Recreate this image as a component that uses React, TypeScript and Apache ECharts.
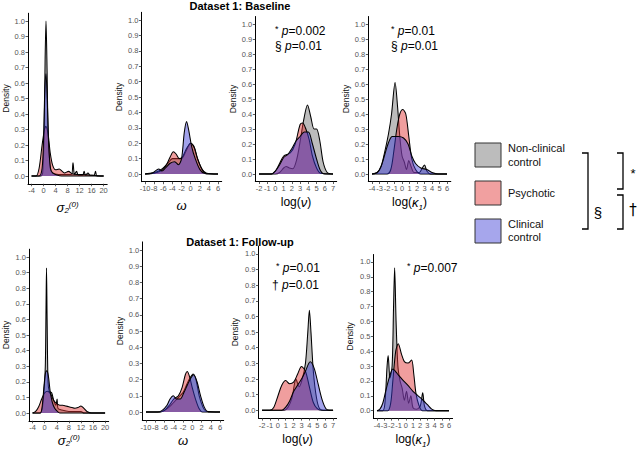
import { useEffect, useRef } from 'react';
import * as echarts from 'echarts';

// ---------- tick labels ----------
const sigmaTicks = [-4, 0, 4, 8, 12, 16, 20];
const omegaTicks = [-10, -8, -6, -4, -2, 0, 2, 4, 6];
const nuTicks = [-2, -1, 0, 1, 2, 3, 4, 5, 6, 7];
const kappaTicks = [-4, -3, -2, -1, 0, 1, 2, 3, 4, 5, 6];
const densityTicks = [0, 0.1, 0.2, 0.3, 0.4, 0.5, 0.6, 0.7, 0.8, 0.9, 1.0];

const groups = ['Non-clinical control', 'Psychotic', 'Clinical control'];

// ---------- Baseline: sigma2(0) ----------
const baseSigmaNon = [[-4,0],[-1,0],[-0.3,0.02],[0.2,0.3],[0.5,0.75],[0.8,1.0],[1.1,0.75],[1.5,0.3],[2.2,0.05],[3,0.02],[5,0.01],[8,0.01],[9.3,0.01],[9.8,0.085],[10.3,0.01],[11,0.03],[11.6,0.005],[13,0.005],[13.5,0.03],[14,0.005],[14.8,0.02],[15.5,0.005],[16.8,0.005],[17.3,0.03],[17.8,0],[20,0]];
const baseSigmaPsy = [[-4,0],[-2.5,0],[-1.5,0.05],[-0.5,0.2],[0.3,0.3],[0.8,0.32],[1.5,0.27],[2.2,0.15],[3,0.07],[4,0.04],[5.2,0.045],[6.2,0.03],[7,0.02],[8.3,0.03],[9.5,0.015],[11,0.01],[13,0.01],[16,0.005],[19,0],[20,0]];
const baseSigmaClin = [[-4,0],[-1.5,0],[-0.5,0.05],[0,0.25],[0.4,0.55],[0.8,0.66],[1.2,0.5],[1.7,0.2],[2.3,0.05],[3,0.02],[4,0.01],[6,0],[20,0]];

// ---------- Baseline: omega ----------
const baseOmegaNon = [[-10,0],[-9,0.005],[-8,0.01],[-7,0.02],[-6,0.04],[-5,0.07],[-4,0.1],[-3,0.1],[-2,0.1],[-1,0.15],[0,0.2],[0.7,0.18],[1.5,0.1],[2.5,0.03],[3.5,0.005],[6,0]];
const baseOmegaPsy = [[-10,0],[-8,0.005],[-6.5,0.02],[-5.5,0.05],[-4.5,0.11],[-3.8,0.145],[-3.2,0.13],[-2.5,0.1],[-1.8,0.11],[-1,0.16],[0,0.2],[0.8,0.17],[1.5,0.1],[2.5,0.03],[3.5,0],[6,0]];
const baseOmegaClin = [[-10,0],[-8.5,0.005],[-7.5,0.025],[-7,0.032],[-6.3,0.02],[-5.5,0.04],[-4.5,0.07],[-3.5,0.08],[-2.7,0.06],[-2,0.1],[-1.4,0.27],[-0.9,0.34],[-0.4,0.28],[0.2,0.18],[1,0.1],[2,0.03],[3,0.005],[6,0]];

// ---------- Baseline: log(nu) ----------
const baseNuNon = [[-2,0],[0,0],[0.5,0.01],[1,0.04],[1.3,0.05],[1.7,0.04],[2.1,0.035],[2.6,0.1],[3.1,0.25],[3.4,0.35],[3.9,0.46],[4.3,0.38],[4.7,0.3],[5.0,0.3],[5.4,0.22],[5.8,0.08],[6.3,0.01],[7,0]];
const baseNuPsy = [[-2,0],[-0.5,0],[0,0.02],[0.5,0.07],[1,0.12],[1.8,0.14],[2.4,0.2],[3,0.33],[3.3,0.34],[3.7,0.3],[4.1,0.23],[4.5,0.12],[5,0.04],[5.5,0.005],[7,0]];
const baseNuClin = [[-2,0],[-0.5,0],[0,0.02],[0.5,0.06],[1,0.11],[1.5,0.13],[2,0.17],[2.5,0.22],[3,0.25],[3.5,0.28],[4,0.28],[4.5,0.2],[5,0.1],[5.5,0.02],[6,0],[7,0]];

// ---------- Baseline: log(kappa1) ----------
const baseKappaNon = [[-4,0],[-3.3,0.01],[-2.8,0.05],[-2.3,0.15],[-1.8,0.27],[-1.4,0.4],[-0.93,0.61],[-0.6,0.45],[-0.3,0.25],[0,0.12],[0.3,0.08],[0.6,0.03],[0.9,0.09],[1.2,0.05],[1.6,0.01],[2.3,0.01],[2.7,0.04],[3,0.06],[3.3,0.02],[3.8,0],[6,0]];
const baseKappaPsy = [[-4,0],[-2,0],[-1.5,0.03],[-1.1,0.15],[-0.7,0.3],[-0.3,0.4],[0.1,0.43],[0.5,0.4],[0.9,0.25],[1.3,0.1],[1.8,0.03],[2.5,0],[6,0]];
const baseKappaClin = [[-4,0],[-3.3,0.01],[-2.8,0.05],[-2.3,0.13],[-1.8,0.21],[-1.3,0.25],[-0.5,0.25],[0.2,0.24],[0.8,0.2],[1.3,0.12],[1.8,0.07],[2.5,0.04],[3.3,0.03],[4,0.01],[4.8,0],[6,0]];

// ---------- Follow-up: sigma2(0) ----------
const fuSigmaNon = [[-4,0],[-1.5,0],[-0.8,0.03],[-0.3,0.12],[0.2,0.3],[0.45,0.7],[0.6,0.93],[0.8,0.6],[1.1,0.2],[1.5,0.14],[2.3,0.13],[3,0.08],[3.7,0.05],[4.1,0.09],[4.4,0.03],[5.5,0.02],[8,0.01],[12,0.01],[13,0],[20,0]];
const fuSigmaPsy = [[-4,0],[-3,0.01],[-2,0.04],[-1,0.09],[0,0.13],[1,0.14],[2,0.12],[3,0.08],[4,0.06],[5,0.05],[6,0.05],[7,0.045],[8,0.04],[9,0.035],[10,0.03],[11,0.035],[12,0.045],[13,0.03],[14,0.01],[15.5,0],[20,0]];
const fuSigmaClin = [[-4,0],[-1.5,0],[-0.8,0.05],[-0.2,0.18],[0.3,0.26],[0.7,0.27],[1.2,0.24],[1.8,0.14],[2.5,0.07],[3.3,0.03],[4.2,0.01],[5,0],[20,0]];

// ---------- Follow-up: omega ----------
const fuOmegaNon = [[-10,0],[-7,0],[-6,0.01],[-5,0.03],[-4,0.06],[-3,0.09],[-2,0.12],[-1.2,0.17],[-0.5,0.21],[0.2,0.235],[0.8,0.2],[1.5,0.1],[2.3,0.03],[3,0.005],[6,0]];
const fuOmegaPsy = [[-10,0],[-7,0],[-6,0.01],[-5,0.04],[-4,0.08],[-3,0.1],[-2.2,0.15],[-1.5,0.23],[-1.1,0.25],[-0.6,0.22],[0,0.15],[0.7,0.08],[1.5,0.02],[2.2,0],[6,0]];
const fuOmegaClin = [[-10,0],[-7.5,0],[-6.5,0.01],[-5.5,0.04],[-4.8,0.08],[-4.1,0.1],[-3.4,0.08],[-2.6,0.08],[-1.8,0.12],[-1,0.17],[-0.3,0.21],[0.3,0.23],[1,0.19],[1.8,0.1],[2.6,0.03],[3.5,0],[6,0]];

// ---------- Follow-up: log(nu) ----------
const fuNuNon = [[-2,0],[0.8,0],[1.3,0.02],[1.8,0.08],[2.3,0.2],[2.7,0.15],[3.1,0.2],[3.5,0.3],[3.8,0.5],[4.0,0.64],[4.2,0.5],[4.5,0.25],[4.9,0.08],[5.3,0.01],[6,0],[7,0]];
const fuNuPsy = [[-2,0],[-1,0],[-0.5,0.02],[0,0.09],[0.5,0.16],[1,0.19],[1.5,0.17],[2,0.18],[2.5,0.23],[3,0.28],[3.5,0.25],[4,0.15],[4.5,0.05],[5,0.01],[5.5,0],[7,0]];
const fuNuClin = [[-2,0],[0.5,0],[1,0.02],[1.5,0.06],[2,0.12],[2.5,0.16],[3,0.2],[3.5,0.25],[4.1,0.31],[4.6,0.27],[5.1,0.17],[5.6,0.07],[6.1,0.01],[6.6,0],[7,0]];

// ---------- Follow-up: log(kappa1) ----------
const fuKappaNon = [[-4,0],[-3.2,0],[-2.9,0.05],[-2.6,0.3],[-2.45,0.37],[-2.2,0.22],[-1.9,0.3],[-1.7,0.7],[-1.55,0.96],[-1.35,0.6],[-1.1,0.3],[-0.8,0.2],[-0.5,0.15],[-0.2,0.07],[0.1,0.13],[0.4,0.05],[0.7,0.1],[1.0,0.02],[1.5,0.01],[2.0,0.03],[2.35,0.12],[2.6,0.03],[3,0],[6,0]];
const fuKappaPsy = [[-4,0],[-2.5,0],[-2.1,0.05],[-1.8,0.2],[-1.4,0.4],[-1.05,0.45],[-0.6,0.38],[-0.2,0.33],[0.3,0.32],[0.8,0.34],[1.1,0.25],[1.4,0.12],[1.8,0.04],[2.3,0],[6,0]];
const fuKappaClin = [[-4,0],[-3.6,0.01],[-3.2,0.05],[-2.8,0.13],[-2.3,0.22],[-1.8,0.28],[-1.2,0.25],[-0.5,0.21],[0.3,0.17],[1,0.13],[1.7,0.1],[2.4,0.07],[3,0.04],[3.6,0.01],[4.2,0],[6,0]];

// ---------- styles ----------
const FONT = '"Liberation Sans", Arial, Helvetica, sans-serif';
const fillColors = ['#7a7a7a', '#e03030', '#3a3ad4'];
const fillOpacity = [0.5, 0.47, 0.47];
const legendFill = ['#bcbcbc', '#f1a0a0', '#a6a6ec'];

const SIGMA = '{it|σ}{sub|2}{sup|(0)}';
const OMEGA = '{it|ω}';
const NU = 'log({it|ν})';
const KAPPA = 'log({it|κ}{sub|1})';

const panels = [
  { grid: { left: 26.9, top: 13.25, width: 80.3, height: 170.5 }, xMin: -5.2, xMax: 21.2, ticks: sigmaTicks, name: SIGMA, nameGap: 17, yGap: 18, data: [baseSigmaNon, baseSigmaPsy, baseSigmaClin] },
  { grid: { left: 141.4, top: 12.3, width: 80.3, height: 169.4 }, xMin: -10.8, xMax: 6.8, ticks: omegaTicks, name: OMEGA, nameGap: 17, yGap: 18, data: [baseOmegaNon, baseOmegaPsy, baseOmegaClin] },
  { grid: { left: 255.3, top: 16.5, width: 81.4, height: 165 }, xMin: -2.45, xMax: 7.45, ticks: nuTicks, name: NU, nameGap: 11, yGap: 18, data: [baseNuNon, baseNuPsy, baseNuClin] },
  { grid: { left: 368.3, top: 16.5, width: 82.5, height: 165 }, xMin: -4.5, xMax: 6.5, ticks: kappaTicks, name: KAPPA, nameGap: 11, yGap: 17, data: [baseKappaNon, baseKappaPsy, baseKappaClin] },
  { grid: { left: 28.4, top: 249.2, width: 80.3, height: 171.6 }, xMin: -5.2, xMax: 21.2, ticks: sigmaTicks, name: SIGMA, nameGap: 13, yGap: 19, data: [fuSigmaNon, fuSigmaPsy, fuSigmaClin] },
  { grid: { left: 142.3, top: 241.9, width: 81.4, height: 178.2 }, xMin: -10.8, xMax: 6.8, ticks: omegaTicks, name: OMEGA, nameGap: 13, yGap: 17, data: [fuOmegaNon, fuOmegaPsy, fuOmegaClin] },
  { grid: { left: 258.5, top: 246.1, width: 78.1, height: 173.8 }, xMin: -2.45, xMax: 7.45, ticks: nuTicks, name: NU, nameGap: 6, yGap: 19, data: [fuNuNon, fuNuPsy, fuNuClin] },
  { grid: { left: 373.4, top: 254.5, width: 79.2, height: 165 }, xMin: -4.5, xMax: 6.5, ticks: kappaTicks, name: KAPPA, nameGap: 11, yGap: 19, data: [fuKappaNon, fuKappaPsy, fuKappaClin] },
];

const nameRich = {
  it: { fontStyle: 'italic', fontSize: 13, fontFamily: FONT, color: '#000', lineHeight: 14, verticalAlign: 'middle' },
  sub: { fontStyle: 'italic', fontSize: 8, fontFamily: FONT, color: '#000', lineHeight: 8, verticalAlign: 'bottom' },
  sup: { fontStyle: 'italic', fontSize: 8, fontFamily: FONT, color: '#000', lineHeight: 8, verticalAlign: 'top' },
};

const annoRich = {
  st: { fontSize: 9, fontFamily: FONT, color: '#000', lineHeight: 8, verticalAlign: 'top' },
  it: { fontSize: 12, fontStyle: 'italic', fontFamily: FONT, color: '#000', lineHeight: 14, verticalAlign: 'middle' },
  n: { fontSize: 12, fontFamily: FONT, color: '#000', lineHeight: 14, verticalAlign: 'middle' },
};

function anno(x: number, y: number, sym: string, val: string, symSmall: boolean) {
  const text = symSmall ? `{st|${sym}} {it|p}{n|=${val}}` : `{n|${sym} }{it|p}{n|=${val}}`;
  return {
    type: 'text',
    x, y,
    silent: true,
    style: { text, rich: annoRich, fontSize: 12, fontFamily: FONT, fill: '#000', textAlign: 'left', textVerticalAlign: 'middle' },
  };
}

function txt(x: number, y: number, text: string, size: number, extra: any = {}) {
  return {
    type: 'text', x, y, silent: true,
    style: { text, fontSize: size, fontFamily: FONT, fill: '#111', textAlign: 'left', textVerticalAlign: 'middle', ...extra },
  };
}

function bracket(x1: number, x2: number, y1: number, y2: number) {
  return {
    type: 'polyline', silent: true,
    shape: { points: [[x1, y1], [x2, y1], [x2, y2], [x1, y2]] },
    style: { stroke: '#000', lineWidth: 1.3, fill: null },
  };
}

function buildOption() {
  const grid = panels.map((p) => ({ ...p.grid, containLabel: false }));
  const xAxis = panels.map((p, i) => ({
    type: 'value', gridIndex: i, min: p.xMin, max: p.xMax,
    name: p.name, nameLocation: 'middle', nameGap: p.nameGap,
    nameTextStyle: { fontSize: 12, fontFamily: FONT, color: '#000', lineHeight: 18, rich: nameRich },
    axisLine: { show: true, onZero: false, lineStyle: { color: '#000', width: 1 } },
    axisTick: { show: true, length: 2.5, customValues: p.ticks, lineStyle: { color: '#333', width: 0.8 } },
    axisLabel: { show: true, customValues: p.ticks, fontSize: 7.5, color: '#555', fontFamily: FONT, margin: 3, formatter: (v: number) => String(v), hideOverlap: false },
    splitLine: { show: false },
  }));
  const yAxis = panels.map((p, i) => ({
    type: 'value', gridIndex: i, min: -0.05, max: 1.05,
    name: 'Density', nameLocation: 'middle', nameGap: p.yGap,
    nameTextStyle: { fontSize: 8.5, fontFamily: FONT, color: '#111' },
    axisLine: { show: true, onZero: false, lineStyle: { color: '#000', width: 1 } },
    axisTick: { show: true, length: 2.5, customValues: densityTicks, lineStyle: { color: '#333', width: 0.8 } },
    axisLabel: { show: true, customValues: densityTicks, fontSize: 7.5, color: '#555', fontFamily: FONT, margin: 3, formatter: (v: number) => v.toFixed(1) },
    splitLine: { show: false },
  }));
  const series: any[] = [];
  panels.forEach((p, i) => {
    p.data.forEach((d, g) => {
      series.push({
        type: 'line', name: groups[g], xAxisIndex: i, yAxisIndex: i, data: d,
        symbol: 'none', smooth: 0.3, silent: true, z: 2 + g,
        lineStyle: { color: '#000', width: 1.05 },
        areaStyle: { color: fillColors[g], opacity: fillOpacity[g] },
      });
    });
  });

  const graphic: any[] = [
    txt(240, 6, 'Dataset 1: Baseline', 11, { fontWeight: 'bold', textAlign: 'center', fill: '#000' }),
    txt(240, 242, 'Dataset 1: Follow-up', 11, { fontWeight: 'bold', textAlign: 'center', fill: '#000' }),
    anno(275, 31, '*', '0.002', true),
    anno(275, 46, '§', '0.01', false),
    anno(391, 31, '*', '0.01', true),
    anno(391, 46, '§', '0.01', false),
    anno(276, 268, '*', '0.01', true),
    anno(272, 285, '†', '0.01', false),
    anno(407, 268, '*', '0.007', true),
  ];
  // legend
  [143, 181, 219].forEach((y, g) => {
    graphic.push({
      type: 'rect', silent: true,
      shape: { x: 475, y, width: 26, height: 24 },
      style: { fill: legendFill[g], stroke: '#333', lineWidth: 1 },
    });
  });
  graphic.push(txt(508, 148, 'Non-clinical', 11));
  graphic.push(txt(508, 162, 'control', 11));
  graphic.push(txt(508, 193, 'Psychotic', 11));
  graphic.push(txt(508, 224, 'Clinical', 11));
  graphic.push(txt(508, 237, 'control', 11));
  graphic.push(bracket(582, 588, 153, 229));
  graphic.push(bracket(617, 623, 153, 189));
  graphic.push(bracket(617, 623, 195, 229));
  graphic.push(txt(598, 212, '§', 15, { textAlign: 'center', fill: '#000' }));
  graphic.push(txt(633, 173, '*', 13, { textAlign: 'center', fill: '#000' }));
  graphic.push(txt(633, 210, '†', 15, { textAlign: 'center', fill: '#000', fontFamily: '"DejaVu Sans", sans-serif' }));

  return {
    animation: false,
    backgroundColor: '#fff',
    grid, xAxis, yAxis, series, graphic,
  };
}

export default function App() {
  const ref = useRef<HTMLDivElement>(null);
  useEffect(() => {
    document.body.style.margin = '0';
    const chart = echarts.init(ref.current!, null, { renderer: 'svg' });
    chart.setOption(buildOption() as any);
    return () => chart.dispose();
  }, []);
  return <div ref={ref} style={{ width: 640, height: 449 }} />;
}
